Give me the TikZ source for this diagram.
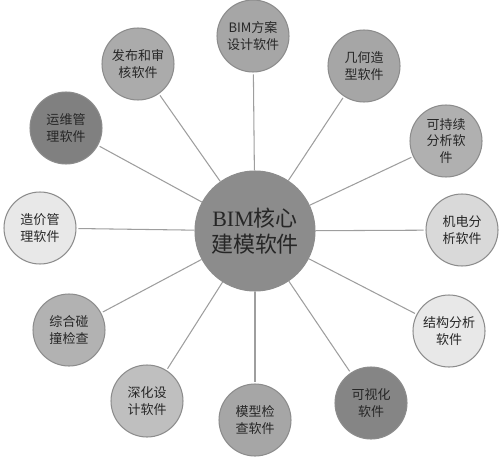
\documentclass[tikz,border=0pt]{standalone}
\usepackage{fontspec}
\usepackage{tikz}
\setmainfont{Noto Sans CJK SC}
\newfontfamily\latinserif{Liberation Serif}
\definecolor{rim}{rgb}{0.55, 0.55, 0.55}
\definecolor{spoke}{rgb}{0.62, 0.62, 0.62}
\tikzstyle{every circle node}=[circle,draw=rim,line width=0.6pt,inner sep=0pt,align=center,text=black!85]
\tikzstyle{soft}=[circle,minimum size=1.44cm,font=\fontsize{7.4}{9.4}\selectfont]
\tikzstyle{core}=[circle,minimum size=2.4cm,font=\fontsize{12.5}{15}\selectfont]

\begin{document}
\begin{tikzpicture}[x=0.02cm,y=-0.02cm]
\useasboundingbox (0,0) rectangle (500,463);
\node[core, fill=black!45] (o) at (255,231) {{\latinserif BIM}核心\\建模软件};
\node[soft, fill=black!35] (a) at (253,36) {BIM方案\\设计软件};
\node[soft, fill=black!35] (b) at (364,66) {几何造\\型软件};
\node[soft, fill=black!31] (c) at (446,141) {可持续\\分析软\\件};
\node[soft, fill=black!15] (d) at (462,230) {机电分\\析软件};
\node[soft, fill=black!9] (e) at (449,331) {结构分析\\软件};
\node[soft, fill=black!48] (f) at (371,403) {可视化\\软件};
\node[soft, fill=black!35] (g) at (255,420) {模型检\\查软件};
\node[soft, fill=black!25] (h) at (147,401) {深化设\\计软件};
\node[soft, fill=black!30] (i) at (69,330) {综合碰\\撞检查};
\node[soft, fill=black!9] (j) at (40,228) {造价管\\理软件};
\node[soft, fill=black!50] (k) at (66,128) {运维管\\理软件};
\node[soft, fill=black!33] (l) at (138,64) {发布和审\\核软件};
\foreach \n in {a,b,c,d,e,f,g,h,i,j,k,l}
  \draw[spoke, line width=0.6pt, shorten >=1pt] (o) -- (\n);
\end{tikzpicture}
\end{document}
